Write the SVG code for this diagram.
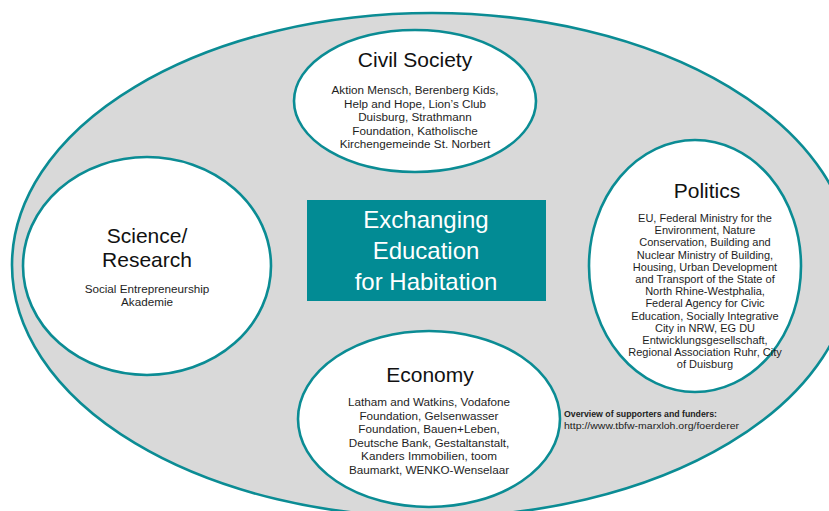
<svg xmlns="http://www.w3.org/2000/svg" width="829" height="511" viewBox="0 0 829 511">
<style>
.ring{fill:#fff;stroke:#0b8c94;stroke-width:2.6}
.title{font-family:"Liberation Sans",Arial,sans-serif;font-size:21px;fill:#111;text-anchor:middle}
.body{font-family:"Liberation Sans",Arial,sans-serif;font-size:11.7px;fill:#1e1e1e;text-anchor:middle}
.pbody{font-family:"Liberation Sans",Arial,sans-serif;font-size:11px;fill:#1e1e1e;text-anchor:middle}
.center{font-family:"Liberation Sans",Arial,sans-serif;font-size:24px;fill:#fff;text-anchor:middle}
.note{font-family:"Liberation Sans",Arial,sans-serif;fill:#222}
</style>
<rect width="829" height="511" fill="#fff"/>
<g id="outer">
<ellipse cx="432" cy="265" rx="420" ry="252" fill="#d9d9d9" stroke="#0b8c94" stroke-width="2.6"/>
</g>
<g id="connectors"></g>
<g id="civil-society">
<ellipse class="ring" cx="415" cy="101" rx="121" ry="71"/>
<text class="title" x="415" y="67">Civil Society</text>
<text class="body" x="415" y="94">Aktion Mensch, Berenberg Kids,</text>
<text class="body" x="415" y="107.5">Help and Hope, Lion’s Club</text>
<text class="body" x="415" y="121">Duisburg, Strathmann</text>
<text class="body" x="415" y="134.5">Foundation, Katholische</text>
<text class="body" x="415" y="148">Kirchengemeinde St. Norbert</text>
</g>
<g id="science-research">
<ellipse class="ring" cx="147" cy="266" rx="124" ry="109"/>
<text class="title" x="147" y="243">Science/</text>
<text class="title" x="147" y="267">Research</text>
<text class="body" x="147" y="293">Social Entrepreneurship</text>
<text class="body" x="147" y="306">Akademie</text>
</g>
<g id="politics">
<ellipse class="ring" cx="695" cy="266" rx="106" ry="126"/>
<text class="title" x="707" y="198">Politics</text>
<text class="pbody" x="705" y="222">EU, Federal Ministry for the</text>
<text class="pbody" x="705" y="234.2">Environment, Nature</text>
<text class="pbody" x="705" y="246.4">Conservation, Building and</text>
<text class="pbody" x="705" y="258.6">Nuclear Ministry of Building,</text>
<text class="pbody" x="705" y="270.8">Housing, Urban Development</text>
<text class="pbody" x="705" y="283">and Transport of the State of</text>
<text class="pbody" x="705" y="295.2">North Rhine-Westphalia,</text>
<text class="pbody" x="705" y="307.4">Federal Agency for Civic</text>
<text class="pbody" x="705" y="319.6">Education, Socially Integrative</text>
<text class="pbody" x="705" y="331.8">City in NRW, EG DU</text>
<text class="pbody" x="705" y="344">Entwicklungsgesellschaft,</text>
<text class="pbody" x="705" y="356.2">Regional Association Ruhr, City</text>
<text class="pbody" x="705" y="368.4">of Duisburg</text>
</g>
<g id="economy">
<ellipse class="ring" cx="429" cy="419" rx="131" ry="88"/>
<text class="title" x="430" y="382">Economy</text>
<text class="body" x="429" y="406">Latham and Watkins, Vodafone</text>
<text class="body" x="429" y="419.5">Foundation, Gelsenwasser</text>
<text class="body" x="429" y="433">Foundation, Bauen+Leben,</text>
<text class="body" x="429" y="446.5">Deutsche Bank, Gestaltanstalt,</text>
<text class="body" x="429" y="460">Kanders Immobilien, toom</text>
<text class="body" x="429" y="473.5">Baumarkt, WENKO-Wenselaar</text>
</g>
<g id="exchanging-education">
<rect x="307" y="200" width="239" height="101" fill="#028b94"/>
<text class="center" x="426" y="228">Exchanging</text>
<text class="center" x="426" y="259">Education</text>
<text class="center" x="426" y="290">for Habitation</text>
</g>
<g id="overview-note">
<text class="note" x="564" y="417" font-size="9" font-weight="bold" textLength="153" lengthAdjust="spacingAndGlyphs">Overview of supporters and funders:</text>
<text class="note" x="564" y="429" font-size="9.5" textLength="175" lengthAdjust="spacingAndGlyphs">http://www.tbfw-marxloh.org/foerderer</text>
</g>
</svg>
